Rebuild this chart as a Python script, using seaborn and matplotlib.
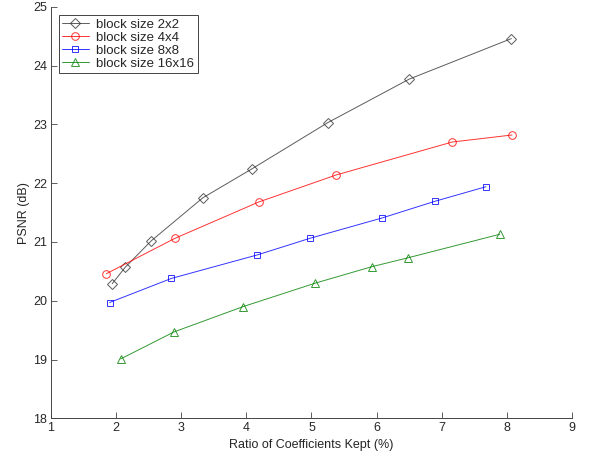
import matplotlib
matplotlib.use("Agg")
import matplotlib.pyplot as plt
import seaborn as sns
import pandas as pd

# ratio of coefficients kept (%) and PSNR (dB) per block size
x_2x2 = [1.94, 2.14, 2.54, 3.33, 4.08, 5.25, 6.50, 8.07]
y_2x2 = [20.29, 20.57, 21.02, 21.75, 22.24, 23.03, 23.77, 24.46]

x_4x4 = [1.85, 2.90, 4.19, 5.38, 7.16, 8.08]
y_4x4 = [20.46, 21.06, 21.68, 22.14, 22.70, 22.82]

x_8x8 = [1.90, 2.85, 4.17, 4.97, 6.09, 6.89, 7.68]
y_8x8 = [19.97, 20.38, 20.78, 21.06, 21.41, 21.69, 21.94]

x_16x16 = [2.07, 2.89, 3.95, 5.06, 5.93, 6.48, 7.89]
y_16x16 = [19.01, 19.47, 19.90, 20.30, 20.58, 20.73, 21.13]

series = [
    ("block size 2x2", x_2x2, y_2x2, "#333333", "D", 4.8),
    ("block size 4x4", x_4x4, y_4x4, "#ff0000", "o", 5.5),
    ("block size 8x8", x_8x8, y_8x8, "#0000ff", "s", 4.5),
    ("block size 16x16", x_16x16, y_16x16, "#008000", "^", 5.8),
]

sns.set_style("ticks")
plt.rcParams['font.family'] = ['Liberation Sans', 'DejaVu Sans']
plt.rcParams['xtick.direction'] = 'in'
plt.rcParams['ytick.direction'] = 'in'

fig = plt.figure(figsize=(5.89, 4.57), dpi=100)
ax = fig.add_axes([0.0866, 0.0847, 0.8844, 0.9003])

for label, xs, ys, color, marker, ms in series:
    df = pd.DataFrame({"ratio": xs, "psnr": ys})
    sns.lineplot(data=df, x="ratio", y="psnr", ax=ax, color=color, lw=0.7,
                 marker=marker, markersize=ms, markerfacecolor="none",
                 markeredgecolor=color, markeredgewidth=0.7, label=label,
                 sort=False, alpha=0.8)

ax.set_xlim(1, 9)
ax.set_ylim(18, 25)
ax.set_xticks(range(1, 10))
ax.set_yticks(range(18, 26))
ax.set_xlabel("Ratio of Coefficients Kept (%)", fontsize=9, labelpad=3)
ax.set_ylabel("PSNR (dB)", fontsize=9, labelpad=2)
ax.tick_params(labelsize=9, length=4, width=0.6, color="#444444", pad=3)
sns.despine(ax=ax)
for sp in ("left", "bottom"):
    ax.spines[sp].set_color("#444444")
    ax.spines[sp].set_linewidth(0.7)

leg = ax.legend(loc="upper left", bbox_to_anchor=(0.015, 0.979), fontsize=9.5,
                fancybox=False, framealpha=1, edgecolor="#444444",
                handlelength=2.0, borderpad=0.25, labelspacing=0.05,
                handletextpad=0.6, borderaxespad=0.0)
leg.get_frame().set_linewidth(0.7)

fig.savefig("out.png", dpi=100)
